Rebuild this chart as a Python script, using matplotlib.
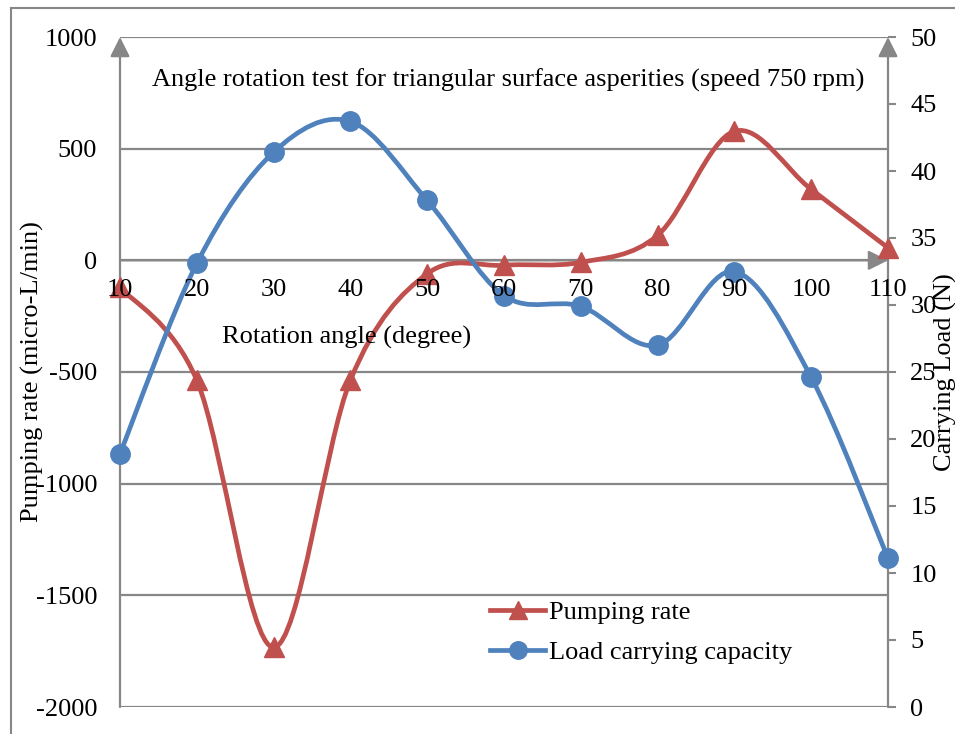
import matplotlib
matplotlib.use("Agg")
import matplotlib.pyplot as plt
import numpy as np
from matplotlib.path import Path
from matplotlib.patches import PathPatch
from matplotlib.lines import Line2D

# ---- data ----
angles = [10, 20, 30, 40, 50, 60, 70, 80, 90, 100, 110]
pumping_rate = [-120, -537, -1733, -537, -60, -22, -9, 112, 578, 318, 56]
load_capacity = [18.9, 33.1, 41.4, 43.7, 37.8, 30.7, 29.9, 27.0, 32.5, 24.6, 11.1]
left_ticks = [-2000, -1500, -1000, -500, 0, 500, 1000]
right_ticks = [0, 5, 10, 15, 20, 25, 30, 35, 40, 45, 50]

title = "Angle rotation test for triangular surface asperities (speed 750 rpm)"
xlabel = "Rotation angle (degree)"
ylabel_left = "Pumping rate (micro-L/min)"
ylabel_right = "Carrying Load (N)"
series_names = ["Pumping rate", "Load carrying capacity"]

RED = "#C0504D"
BLUE = "#4F81BD"
GRAY = "#878787"
FS = 19
plt.rcParams['font.family'] = ['Liberation Serif', 'DejaVu Serif']

W, H = 955, 734
fig = plt.figure(figsize=(W / 100, H / 100), dpi=100)

def fx(px):
    return px / W

def fy(py):
    return 1 - py / H

L, R, T, B = 120, 888, 37, 707
ax = fig.add_axes([fx(L), fy(B), fx(R) - fx(L), fy(T) - fy(B)])
ax2 = ax.twinx()

def smooth_path(xs, ys):
    P = np.column_stack([xs, ys]).astype(float)
    n = len(P)
    verts = [P[0]]
    codes = [Path.MOVETO]
    for i in range(n - 1):
        pm = P[i - 1] if i > 0 else P[0]
        p2 = P[i + 2] if i + 2 < n else P[n - 1]
        c1 = P[i] + (P[i + 1] - pm) / 6.0
        c2 = P[i + 1] - (p2 - P[i]) / 6.0
        verts += [c1, c2, P[i + 1]]
        codes += [Path.CURVE4] * 3
    return Path(verts, codes)

LW = 3.4
MS = 14

# red series on primary axis
ax.add_patch(PathPatch(smooth_path(angles, pumping_rate), fill=False,
                       edgecolor=RED, lw=LW, zorder=3, clip_on=False,
                       capstyle='round', joinstyle='round'))
ax.plot(angles, pumping_rate, linestyle='none', marker='^', ms=MS,
        color=RED, zorder=4, clip_on=False)

# blue series on secondary axis
ax2.add_patch(PathPatch(smooth_path(angles, load_capacity), fill=False,
                        edgecolor=BLUE, lw=LW, zorder=3, clip_on=False,
                        capstyle='round', joinstyle='round'))
ax2.plot(angles, load_capacity, linestyle='none', marker='o', ms=MS,
         color=BLUE, zorder=4, clip_on=False)

ax.set_xlim(angles[0], angles[-1])
ax.set_ylim(left_ticks[0], left_ticks[-1])
ax2.set_ylim(right_ticks[0], right_ticks[-1])

for a in (ax, ax2):
    for s in a.spines.values():
        s.set_visible(False)
    a.set_facecolor('none')

# gridlines (left axis)
ax.set_yticks(left_ticks)
ax.set_yticklabels([str(v) for v in left_ticks])
ax.tick_params(axis='y', length=0, pad=16.5, labelsize=FS)
ax.grid(axis='y', color=GRAY, lw=1.6, zorder=1)
ax.set_axisbelow(True)
ax.set_xticks([])

ax2.set_yticks(right_ticks)
ax2.set_yticklabels([str(v) for v in right_ticks])
ax2.tick_params(axis='y', length=6, width=1.5, color=GRAY, pad=10, labelsize=FS)

# axis lines with arrows
arrow_kw = dict(arrowstyle='-|>', color=GRAY, lw=1.6, mutation_scale=30,
                shrinkA=0, shrinkB=0)
ax.annotate('', xy=(0, 1), xytext=(0, 0), xycoords='axes fraction',
            arrowprops=arrow_kw, annotation_clip=False, zorder=2)
ax.annotate('', xy=(1, 1), xytext=(1, 0), xycoords='axes fraction',
            arrowprops=arrow_kw, annotation_clip=False, zorder=2)
ax.annotate('', xy=(angles[-1], 0), xytext=(angles[0], 0), xycoords='data',
            arrowprops=arrow_kw, annotation_clip=False, zorder=2)

# category labels along the zero line, drawn on top
for a_ in angles:
    ax2.annotate(str(a_), xy=(a_, 0), xycoords=ax.transData,
                 xytext=(0, -21.5), textcoords='offset points',
                 ha='center', va='center', fontsize=FS, zorder=10,
                 annotation_clip=False)

# texts
fig.text(fx(508), fy(80), title, ha='center', va='center', fontsize=FS)
fig.text(fx(347), fy(337), xlabel, ha='center', va='center', fontsize=FS)
fig.text(fx(32), fy(372), ylabel_left, ha='center', va='center',
         rotation=90, fontsize=FS)
fig.text(fx(945), fy(372), ylabel_right, ha='center', va='center',
         rotation=90, fontsize=FS)

# legend
h1 = Line2D([], [], color=RED, lw=LW, marker='^', ms=MS * 0.9)
h2 = Line2D([], [], color=BLUE, lw=LW, marker='o', ms=MS * 0.9)
ax2.legend([h1, h2], series_names, loc='upper left',
           bbox_to_anchor=(fx(490), fy(601)), bbox_transform=fig.transFigure,
           frameon=False, fontsize=FS, borderpad=0, borderaxespad=0,
           handlelength=2.1, handletextpad=0.12, labelspacing=0.6)

# outer chart border (partially cropped)
fig.add_artist(Line2D([fx(11), fx(11)], [0, fy(8)], color=GRAY, lw=1.5,
                      transform=fig.transFigure))
fig.add_artist(Line2D([fx(11), 1], [fy(8), fy(8)], color=GRAY, lw=1.5,
                      transform=fig.transFigure))

fig.savefig("out.png", dpi=100)
